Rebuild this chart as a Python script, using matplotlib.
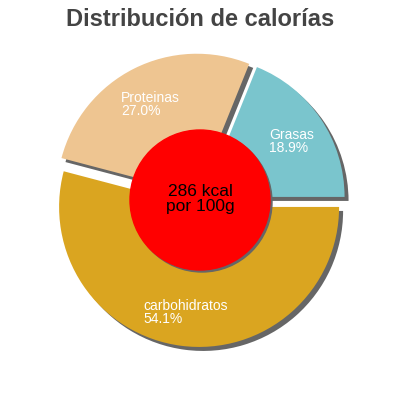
import matplotlib
matplotlib.use("Agg")
import matplotlib.pyplot as plt
from matplotlib.patches import Circle
import numpy as np

plt.rcParams['font.family'] = ['Liberation Sans', 'DejaVu Sans']

# data
labels = ['carbohidratos', 'Proteinas', 'Grasas']
values = [54.1, 27.0, 18.9]
colors = ['#DAA520', '#EEC591', '#7AC5CD']
kcal = 286

cx, cy, R = 200, 200, 140
explode = [7, 7, 5.5]  # pie offsets in data units (px here)

fig = plt.figure(figsize=(4, 4), dpi=100)
ax = fig.add_axes([0, 0, 1, 1])

# shadow pie
ax.pie(values, colors=['#666666'] * 3, explode=explode, startangle=0,
       counterclock=False, radius=R, center=(cx + 4, cy - 4), frame=True,
       wedgeprops=dict(linewidth=0))
# main pie
wedges, _ = ax.pie(values, colors=colors, explode=explode, startangle=0,
                   counterclock=False, radius=R, center=(cx, cy), frame=True,
                   wedgeprops=dict(linewidth=0))
ax.set_xlim(0, 400)
ax.set_ylim(0, 400)
ax.set_aspect('equal')
ax.axis('off')

for w, lab, v in zip(wedges, labels, values):
    ang = np.deg2rad((w.theta1 + w.theta2) / 2)
    x = cx + 0.79 * R * np.cos(ang)
    y = cy + 0.79 * R * np.sin(ang) - 3
    ax.text(x, y, f"{lab}\n{v:.1f}%", color='white', fontsize=10,
            ha='center', va='center', multialignment='left', linespacing=0.9)

# center circle
ax.add_patch(Circle((cx + 2, cy - 2), 70, color='#666666', zorder=5))
ax.add_patch(Circle((cx, cy), 70, color='#FF0000', zorder=6))
ax.text(cx, cy + 1, f"{kcal} kcal\npor 100g", fontsize=12.5, color='black',
        ha='center', va='center', zorder=7, linespacing=1.05)

ax.text(200, 380, "Distribución de calorías", fontsize=17, fontweight='bold',
        color='#444444', ha='center', va='center')

fig.savefig('out.png', dpi=100)
